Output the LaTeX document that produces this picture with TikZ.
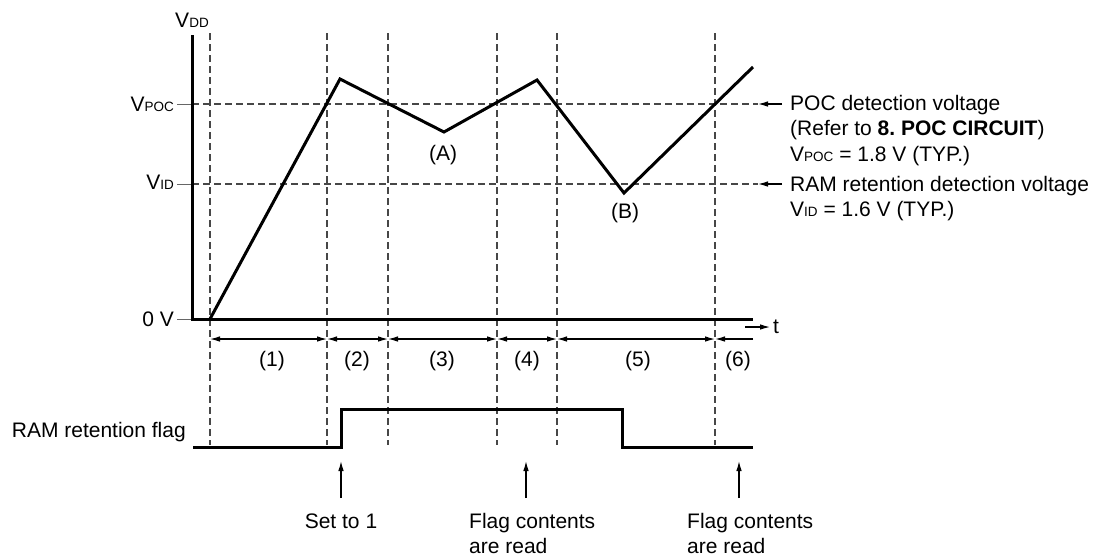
\documentclass[tikz,border=0pt]{standalone}
\usepackage{fontspec}
\setmainfont{Liberation Sans}
\usetikzlibrary{arrows.meta}
\newcommand\smalltxt[1]{{\fontsize{13.5}{13.5}\selectfont #1}}
\begin{document}
\frenchspacing
\begin{tikzpicture}[x=1pt,y=-1pt,
  every node/.style={inner sep=0pt, font=\fontsize{21}{25}\selectfont},
  heavy/.style={line width=3pt, line join=miter},
  guide/.style={line width=1.3pt, draw=black!72, dash pattern=on 7pt off 4pt},
  tickmark/.style={line width=1pt, draw=black!60},
  dimarrow/.style={line width=1.1pt, {Latex[length=10pt,width=5.5pt]}-{Latex[length=10pt,width=5.5pt]}},
  ptr/.style={line width=1.1pt, -{Latex[length=10pt,width=5.5pt]}},
  lbl/.style={anchor=base west, align=left},
]
\useasboundingbox (0,0) rectangle (1098,558);

% guide lines
\foreach \x/\n in {210/a,327/b,388/c,497/d,557/e,715/f}{
  \coordinate (top\n) at (\x,33);
  \coordinate (bot\n) at (\x,445);
  \draw[guide] (top\n) -- (bot\n);
}
\coordinate (hpocL) at (192,104);
\coordinate (hpocR) at (758,104);
\coordinate (hidL) at (192,184);
\coordinate (hidR) at (758,184);
\draw[guide] (hpocL) -- (hpocR);
\draw[guide] (hidL) -- (hidR);

% ticks
\foreach \y/\n in {104/p,184/i,319/z}{
  \coordinate (tk\n) at (177,\y);
  \coordinate (ax\n) at (192,\y);
  \draw[tickmark] (tk\n) -- (ax\n);
}

% axes
\coordinate (ytop) at (192,35);
\coordinate (origin) at (192,319);
\coordinate (xend) at (753,319);
\draw[heavy] (ytop) -- (origin) -- (xend);

% axis labels
\node[anchor=base] (vdd) at (192,27) {V\smalltxt{DD}};
\node[anchor=base east] (vpoc) at (174,111) {V\smalltxt{POC}};
\node[anchor=base east] (vid) at (174,189) {V\smalltxt{ID}};
\node[anchor=base east] (zero) at (174,326) {0 V};

% waveform
\coordinate (w0) at (210,319);
\coordinate (w1) at (340,79);
\coordinate (w2) at (444,132);
\coordinate (w3) at (537,80);
\coordinate (w4) at (624,193);
\coordinate (w5) at (753,67);
\draw[heavy] (w0) -- (w1) -- (w2) -- (w3) -- (w4) -- (w5);
\node (A) at (443,155) {(A)};
\node (B) at (625,213) {(B)};

% right annotations
\coordinate (pa) at (782,104);
\coordinate (ia) at (782,184);
\draw[ptr] (pa) -- (hpocR);
\draw[ptr] (ia) -- (hidR);
\node[lbl] (t1) at (790,110) {POC detection voltage};
\node[lbl] (t2) at (790,135.5) {(Refer to \textbf{8. POC CIRCUIT})};
\node[lbl] (t3) at (790,161) {V\smalltxt{POC} = 1.8 V (TYP.)};
\node[lbl] (t4) at (790,191) {RAM retention detection voltage};
\node[lbl] (t5) at (790,216) {V\smalltxt{ID} = 1.6 V (TYP.)};

% t arrow
\coordinate (ts) at (745,327);
\coordinate (te) at (770,327);
\draw[ptr] (ts) -- (te);
\node[anchor=west] (tlab) at (773,327) {t};

% interval arrows
\foreach \a/\b/\n in {210/327/1,327/388/2,388/497/3,497/557/4,557/715/5}{
  \coordinate (d\n a) at (\a,339);
  \coordinate (d\n b) at (\b,339);
  \draw[dimarrow] (d\n a) -- (d\n b);
}
\coordinate (d6a) at (753,339);
\coordinate (d6b) at (715,339);
\draw[ptr] (d6a) -- (d6b);
\foreach \x/\n in {272/1,357/2,442/3,527/4,638/5,738/6}{
  \node (p\n) at (\x,361) {(\n)};
}

% flag
\node[anchor=base east] (flaglab) at (186,437) {RAM retention flag};
\coordinate (f0) at (193,447);
\coordinate (f1) at (341,447);
\coordinate (f2) at (341,409);
\coordinate (f3) at (622,409);
\coordinate (f4) at (622,447);
\coordinate (f5) at (753,447);
\draw[heavy] (f0) -- (f1) -- (f2) -- (f3) -- (f4) -- (f5);

% event arrows
\foreach \x/\n in {341/1,526/2,739/3}{
  \coordinate (ev\n s) at (\x,498);
  \coordinate (ev\n e) at (\x,461);
  \draw[ptr] (ev\n s) -- (ev\n e);
}
\node[anchor=base] (set1) at (341,528) {Set to 1};
\node[lbl] (read1) at (469,553) {Flag contents\\are read};
\node[lbl] (read2) at (687,553) {Flag contents\\are read};
\end{tikzpicture}
\end{document}
